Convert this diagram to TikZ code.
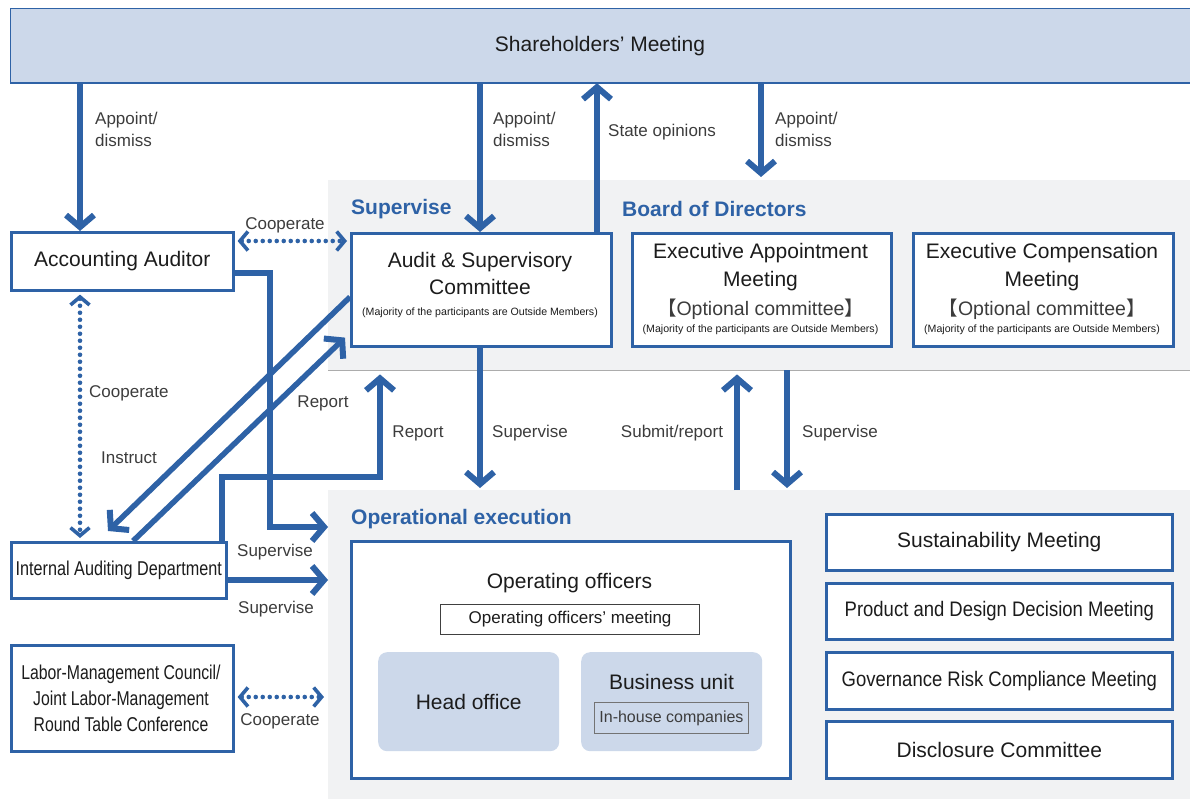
\documentclass[tikz,border=0pt]{standalone}
\usepackage{fontspec}
\usepackage{graphicx}
\setmainfont{Liberation Sans}
\newfontfamily\cjkf{Noto Sans CJK JP}
\usetikzlibrary{arrows.meta}
\definecolor{cblue}{HTML}{2E62A6}
\definecolor{lblue}{HTML}{CCD8EA}
\definecolor{bggray}{HTML}{F1F2F3}
\definecolor{txt}{HTML}{1C1C1C}
\definecolor{lab}{HTML}{3C3C3C}
\begin{document}
\begin{tikzpicture}[x=1pt,y=-1pt,
 boxs/.style={draw=cblue, line width=2.6pt, fill=white, inner sep=0pt, anchor=north west},
 big/.style={font=\fontsize{21}{27}\selectfont, text=txt, align=center, inner sep=0pt},
 lbl/.style={font=\fontsize{17}{22}\selectfont, text=lab, align=left, inner sep=0pt},
 ttl/.style={font=\bfseries\fontsize{21}{25}\selectfont, text=cblue, anchor=west, inner sep=0pt},
 sm/.style={font=\fontsize{10.6}{13}\selectfont, text=txt, inner sep=0pt},
 region/.style={fill=bggray, inner sep=0pt, anchor=north west},
 arr/.style={draw=cblue, line width=5.5pt, -{Straight Barb[length=12pt,width=28pt,line width=6pt]}},
 darr/.style={draw=cblue, line width=4.6pt, line cap=round, dash pattern=on 0pt off 7pt,
   {Straight Barb[length=8pt,width=19pt,line width=3.6pt]}-{Straight Barb[length=8pt,width=19pt,line width=3.6pt]}},
]
\useasboundingbox (0,0) rectangle (1190,799);

% regions
\node[region, minimum width=862, minimum height=190] (bod) at (328,180) {};
\draw[gray!65, line width=1pt] (bod.south west) -- (bod.south east);
\node[region, minimum width=862, minimum height=309] (opx) at (328,490) {};

% shareholders
\node[draw=cblue, fill=lblue, line width=1.2pt, minimum width=1190, minimum height=74, inner sep=0pt, anchor=north west] (sh) at (10,8) {};
\draw[cblue, line width=2.5pt] (sh.south west) -- (sh.south east);
\node[big] (shT) at (600,46) {Shareholders’ Meeting};

% coordinates
\coordinate (c80) at (80,0);
\coordinate (c108) at (108,0);
\coordinate (c133) at (133,0);
\coordinate (c222) at (222,0);
\coordinate (c270) at (270,0);
\coordinate (c380) at (380,0);
\coordinate (c480) at (480,0);
\coordinate (c597) at (597,0);
\coordinate (c737) at (737,0);
\coordinate (c761) at (761,0);
\coordinate (c787) at (787,0);
\coordinate (y241) at (0,241);
\coordinate (y273) at (0,273);
\coordinate (y297) at (0,297);
\coordinate (y527) at (0,527);
\coordinate (y580) at (0,580);
\coordinate (y697) at (0,697);
\coordinate (y477) at (0,477);

% boxes
\node[boxs, minimum width=222, minimum height=58] (aa) at (10,231) {};
\node[big] (aaT) at (aa.center) {Accounting Auditor};

\node[boxs, minimum width=260, minimum height=113] (ac) at (350,232) {};
\node[big] (acT) at (480,273.5) {Audit \& Supervisory\\Committee};
\node[sm] (acS) at (480,313) {(Majority of the participants are Outside Members)};

\node[boxs, minimum width=259, minimum height=113] (ea) at (631,232) {};
\node[big, font=\fontsize{21}{28}\selectfont] (eaT) at (760.5,267) {Executive Appointment\\Meeting};
\node[big, font=\fontsize{19.5}{24}\selectfont, text=lab] (eaO) at (760.5,309) {{\cjkf 【}Optional committee{\cjkf 】}};
\node[sm] (eaS) at (760.5,330) {(Majority of the participants are Outside Members)};

\node[boxs, minimum width=260, minimum height=113] (ec) at (912,232) {};
\node[big, font=\fontsize{21}{28}\selectfont] (ecT) at (1042,267) {Executive Compensation\\Meeting};
\node[big, font=\fontsize{19.5}{24}\selectfont, text=lab] (ecO) at (1042,309) {{\cjkf 【}Optional committee{\cjkf 】}};
\node[sm] (ecS) at (1042,330) {(Majority of the participants are Outside Members)};

\node[boxs, minimum width=215, minimum height=56] (iad) at (10,541) {};
\node[big, font=\fontsize{20}{24}\selectfont] (iadT) at (iad.center) {\scalebox{0.81}[1]{Internal Auditing Department}};

\node[boxs, minimum width=222, minimum height=106] (lab) at (10,644) {};
\node[big, font=\fontsize{20}{26}\selectfont] (labT) at (121,698) {\scalebox{0.79}[1]{Labor-Management Council/}\\\scalebox{0.79}[1]{Joint Labor-Management}\\\scalebox{0.79}[1]{Round Table Conference}};

% operational box
\node[boxs, minimum width=439, minimum height=237] (op) at (350,540) {};
\node[big] (opT) at (569.5,583) {Operating officers};
\node[draw=black!75, line width=1.1pt, fill=white, minimum width=259, minimum height=30, inner sep=0pt, anchor=north west] (oom) at (440,604) {};
\node[lbl, text=txt] (oomT) at (oom.center) {Operating officers’ meeting};
\node[fill=lblue, rounded corners=9pt, minimum width=181, minimum height=99, inner sep=0pt, anchor=north west] (ho) at (378,652) {};
\node[big] (hoT) at (ho.center) {Head office};
\node[fill=lblue, rounded corners=9pt, minimum width=181, minimum height=99, inner sep=0pt, anchor=north west] (bu) at (581,652) {};
\node[big] (buT) at (671.5,682) {Business unit};
\node[draw=black!55, line width=0.9pt, minimum width=154, minimum height=31, inner sep=0pt, anchor=north west] (ihc) at (594,702) {};
\node[big, font=\fontsize{16}{20}\selectfont, text=lab] (ihcT) at (ihc.center) {In-house companies};

% right boxes
\node[boxs, minimum width=346, minimum height=56] (s1) at (825,513) {};
\node[big] (s1T) at (s1.center) {Sustainability Meeting};
\node[boxs, minimum width=346, minimum height=56] (s2) at (825,582) {};
\node[big] (s2T) at (s2.center) {\scalebox{0.88}[1]{Product and Design Decision Meeting}};
\node[boxs, minimum width=346, minimum height=57] (s3) at (825,651) {};
\node[big] (s3T) at (s3.center) {\scalebox{0.88}[1]{Governance Risk Compliance Meeting}};
\node[boxs, minimum width=346, minimum height=57] (s4) at (825,720) {};
\node[big] (s4T) at (s4.center) {Disclosure Committee};

% titles
\node[ttl] (tSup) at (351,209) {Supervise};
\node[ttl] (tBod) at (622,209) {Board of Directors};
\node[ttl] (tOp) at (351,519) {Operational execution};

% arrows
\draw[arr] (c80 |- sh.south) -- (c80 |- aa.north);
\draw[arr] (c480 |- sh.south) -- (c480 |- ac.north);
\draw[arr] (c597 |- ac.north) -- (c597 |- sh.south);
\draw[arr] (c761 |- sh.south) -- ([yshift=3pt]c761 |- bod.north);
\draw[darr, shorten <=3pt, shorten >=3pt] (aa.east |- y241) -- (ac.west |- y241);
\draw[arr] (aa.east |- y273) -| (c270 |- y527) -- (opx.west |- y527);
\draw[arr] (iad.east |- y580) -- (opx.west |- y580);
\draw[arr] (c222 |- iad.north) |- (c380 |- y477) -- ([yshift=-4pt]c380 |- bod.south);
\draw[arr] (ac.west |- y297) -- ([yshift=10pt]c108 |- iad.north);
\draw[arr] (c133 |- iad.north) -- ([shift={(-5,-10)}]ac.south west);
\draw[arr] (c480 |- ac.south) -- ([yshift=2pt]c480 |- opx.north);
\draw[arr] (c737 |- opx.north) -- ([yshift=-4pt]c737 |- bod.south);
\draw[arr] (c787 |- bod.south) -- ([yshift=2pt]c787 |- opx.north);
\draw[darr, shorten <=3pt, shorten >=3pt] (c80 |- aa.south) -- (c80 |- iad.north);
\draw[darr, shorten <=3pt, shorten >=4pt] (lab.east |- y697) -- (opx.west |- y697);

% labels
\node[lbl, anchor=west] (l1) at (95,129) {Appoint/\\dismiss};
\node[lbl, anchor=west] (l2) at (493,129) {Appoint/\\dismiss};
\node[lbl, anchor=west] (l3) at (608,132) {State opinions};
\node[lbl, anchor=west] (l4) at (775,129) {Appoint/\\dismiss};
\node[lbl] (l5) at (285,225) {Cooperate};
\node[lbl, anchor=west] (l6) at (89,393) {Cooperate};
\node[lbl] (l7) at (129,458) {Instruct};
\node[lbl] (l8) at (323,403) {Report};
\node[lbl] (l9) at (418,433) {Report};
\node[lbl] (l10) at (530,433) {Supervise};
\node[lbl] (l11) at (672,433) {Submit/report};
\node[lbl] (l12) at (840,433) {Supervise};
\node[lbl] (l13) at (275,552) {Supervise};
\node[lbl] (l14) at (276,609) {Supervise};
\node[lbl] (l15) at (280,721) {Cooperate};
\end{tikzpicture}
\end{document}
